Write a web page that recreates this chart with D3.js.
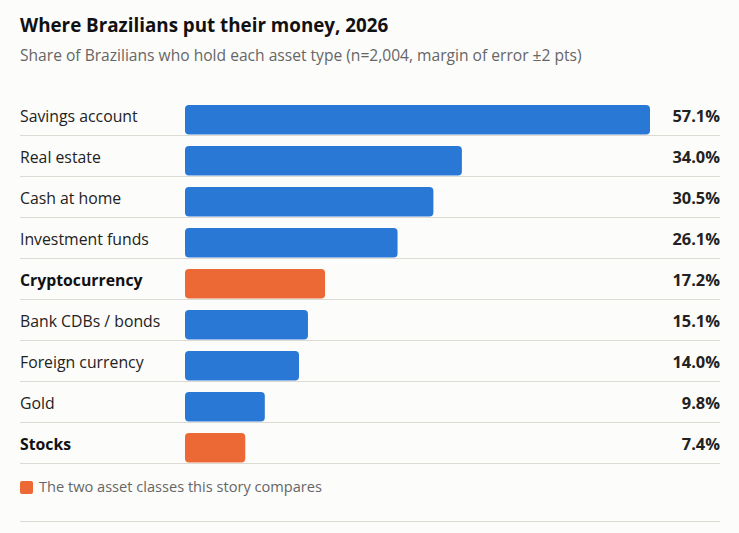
<!DOCTYPE html>
<html>
<head>
<meta charset="utf-8">
<script src="https://cdn.jsdelivr.net/npm/d3@7"></script>
<style>
  html, body { margin: 0; padding: 0; background: #fcfcfa; }
  svg { display: block; font-family: "Open Sans", "Noto Sans", sans-serif; }
</style>
</head>
<body>
<svg id="chart" width="739" height="533"></svg>
<script>
const categories = ["Savings account", "Real estate", "Cash at home", "Investment funds", "Cryptocurrency", "Bank CDBs / bonds", "Foreign currency", "Gold", "Stocks"];
const values = [57.1, 34.0, 30.5, 26.1, 17.2, 15.1, 14.0, 9.8, 7.4];
const highlighted = ["Cryptocurrency", "Stocks"];
const valueLabels = ["57.1%", "34.0%", "30.5%", "26.1%", "17.2%", "15.1%", "14.0%", "9.8%", "7.4%"];
const titleText = "Where Brazilians put their money, 2026";
const subtitleText = "Share of Brazilians who hold each asset type (n=2,004, margin of error \u00b12 pts)";
const legendText = "The two asset classes this story compares";

const W = 739, H = 533;
const left = 20, right = 720;
const barX0 = 185;
const blue = "#2a78d6", orange = "#ec6936";

const svg = d3.select("#chart");
svg.append("rect").attr("width", W).attr("height", H).attr("fill", "#fcfcfa");

svg.append("text").attr("x", left).attr("y", 32)
  .attr("font-size", 18.8).attr("font-weight", 700).attr("fill", "#111")
  .text(titleText);
svg.append("text").attr("x", left).attr("y", 60.5)
  .attr("font-size", 15.6).attr("fill", "#666")
  .text(subtitleText);

const data = categories.map((c, i) => ({ c, v: values[i], label: valueLabels[i], hi: highlighted.includes(c) }));

const y = d3.scaleBand().domain(categories).range([94.5, 463.5]).paddingInner(0).paddingOuter(0);
const x = d3.scaleLinear().domain([0, 57.1]).range([barX0, 650]);

const rows = svg.append("g").selectAll("g").data(data).join("g")
  .attr("transform", d => `translate(0,${y(d.c)})`);

rows.append("line")
  .attr("x1", left).attr("x2", right)
  .attr("y1", y.bandwidth()).attr("y2", y.bandwidth())
  .attr("stroke", "#dcdad3").attr("stroke-width", 1);

rows.append("rect")
  .attr("x", x(0)).attr("y", 10.5)
  .attr("width", d => x(d.v) - x(0)).attr("height", 29.5)
  .attr("rx", 4).attr("ry", 4)
  .attr("fill", d => d.hi ? orange : blue);

rows.append("text")
  .attr("x", left).attr("y", 22).attr("dy", "0.35em")
  .attr("font-size", 15.8).attr("font-weight", d => d.hi ? 700 : 400)
  .attr("fill", d => d.hi ? "#111" : "#222")
  .text(d => d.c);

rows.append("text")
  .attr("x", right).attr("y", 22).attr("dy", "0.35em")
  .attr("text-anchor", "end")
  .attr("font-size", 16.4).attr("font-weight", 700).attr("fill", "#222")
  .text(d => d.label);

// legend
svg.append("rect").attr("x", left).attr("y", 481).attr("width", 13).attr("height", 13)
  .attr("rx", 2).attr("fill", orange);
svg.append("text").attr("x", 39).attr("y", 487).attr("dy", "0.35em")
  .attr("font-size", 14.6).attr("fill", "#666").text(legendText);

svg.append("line").attr("x1", left).attr("x2", right).attr("y1", 521.5).attr("y2", 521.5)
  .attr("stroke", "#dcdad3");
</script>
</body>
</html>
